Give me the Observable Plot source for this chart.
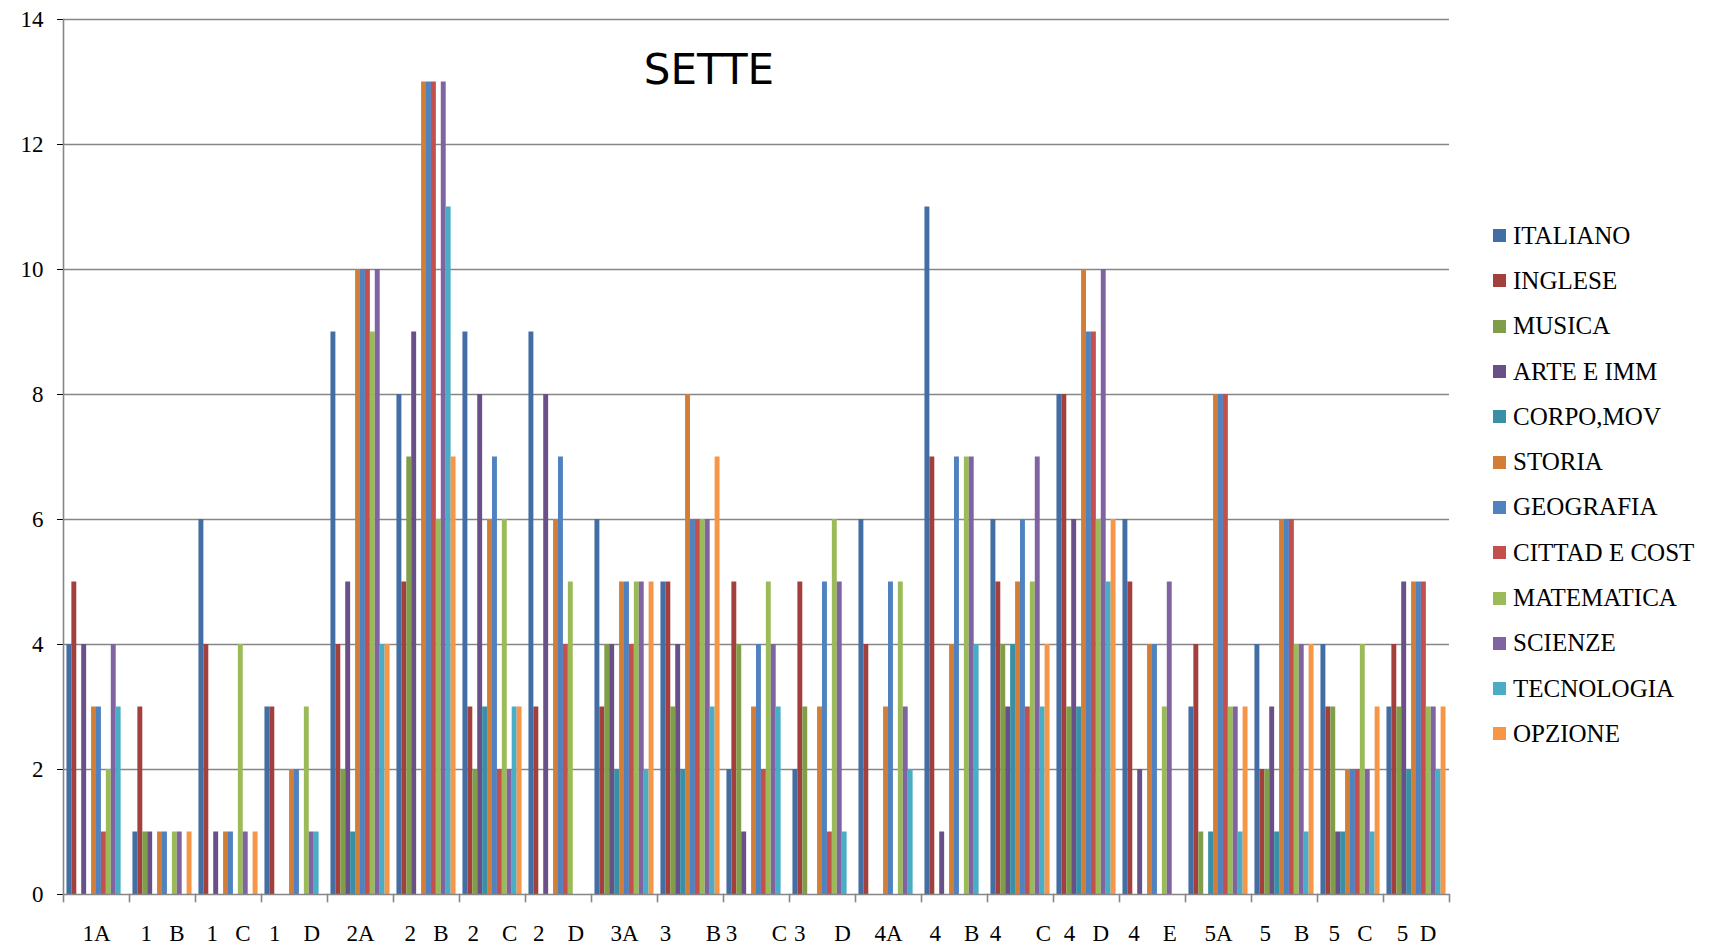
<!DOCTYPE html>
<html><head><meta charset="utf-8">
<script src="https://cdn.jsdelivr.net/npm/d3@7"></script>
<script src="https://cdn.jsdelivr.net/npm/@observablehq/plot@0.6"></script>
<style>
html,body{margin:0;padding:0;background:#fff;}
#wrap{position:relative;width:1715px;height:949px;overflow:hidden;}
#chart{position:absolute;left:0;top:0;}
#title{position:absolute;left:709px;top:45px;transform:translateX(-50%);font-family:"DejaVu Sans";font-size:42px;color:#000;white-space:nowrap;}
#legend{position:absolute;left:1493px;top:213px;font-family:"Liberation Serif";font-size:25px;color:#000;}
.item{display:flex;align-items:center;height:45.3px;white-space:nowrap;}
.sw{width:13px;height:13px;margin-right:7px;flex:none;}
</style></head>
<body><div id="wrap"><div id="chart"></div><div id="title">SETTE</div><div id="legend"></div></div>
<script>
const categories = ["1A","1B","1C","1D","2A","2B","2C","2D","3A","3B","3C","3D","4A","4B","4C","4D","4E","5A","5B","5C","5D"];
const S = "\u00a0";
const categoryLabels = ["1A","1"+S.repeat(3)+"B","1"+S.repeat(3)+"C","1"+S.repeat(4)+"D","2A","2"+S.repeat(3)+"B","2"+S.repeat(4)+"C","2"+S.repeat(4)+"D","3A","3"+S.repeat(6)+"B","3"+S.repeat(6)+"C","3"+S.repeat(5)+"D","4A","4"+S.repeat(4)+"B","4"+S.repeat(6)+"C","4"+S.repeat(3)+"D","4"+S.repeat(4)+"E","5A","5"+S.repeat(4)+"B","5"+S.repeat(3)+"C","5"+S.repeat(2)+"D"];
const seriesNames = ["ITALIANO","INGLESE","MUSICA","ARTE E IMM","CORPO,MOV","STORIA","GEOGRAFIA","CITTAD E COST","MATEMATICA","SCIENZE","TECNOLOGIA","OPZIONE"];
const seriesColors = ["#436EA4","#A3403D","#809D4A","#6A5088","#3A8FA6","#D27E36","#5082C0","#C4504E","#9BBB59","#8064A2","#4BACC6","#F79646"];

const italiano   = [4,1,6,3,9,8,9,9,6,5,2,2,6,11,6,8,6,3,4,4,3];
const inglese    = [5,3,4,3,4,5,3,3,3,5,5,5,4,7,5,8,5,4,2,3,4];
const musica     = [0,1,0,0,2,7,2,0,4,3,4,3,0,0,4,3,0,1,2,3,3];
const arte       = [4,1,1,0,5,9,8,8,4,4,1,0,0,1,3,6,2,0,3,1,5];
const corpo      = [0,0,0,0,1,0,3,0,2,2,0,0,0,0,4,3,0,1,1,1,2];
const storia     = [3,1,1,2,10,13,6,6,5,8,3,3,3,4,5,10,4,8,6,2,5];
const geografia  = [3,1,1,2,10,13,7,7,5,6,4,5,5,7,6,9,4,8,6,2,5];
const cittad     = [1,0,0,0,10,13,2,4,4,6,2,1,0,0,3,9,0,8,6,2,5];
const matematica = [2,1,4,3,9,6,6,5,5,6,5,6,5,7,5,6,3,3,4,4,3];
const scienze    = [4,1,1,1,10,13,2,0,5,6,4,5,3,7,7,10,5,3,4,2,3];
const tecnologia = [3,0,0,1,4,11,3,0,2,3,3,1,2,4,3,5,0,1,1,1,2];
const opzione    = [0,1,1,0,4,7,3,0,5,7,0,0,0,0,4,6,0,3,4,3,3];
const yTicks = [0,2,4,6,8,10,12,14];

const seriesValues = [italiano,inglese,musica,arte,corpo,storia,geografia,cittad,matematica,scienze,tecnologia,opzione];
const rows = [];
categories.forEach((c,i) => seriesNames.forEach((s,j) => rows.push({category:c, series:s, value:seriesValues[j][i]})));

const axisGray = "#868686";
const chart = Plot.plot({
  width: 1715, height: 949,
  marginLeft: 63, marginRight: 266, marginTop: 19, marginBottom: 55,
  style: {fontFamily: "Liberation Serif", fontSize: "23px", color: "#000", background: "transparent", overflow: "visible"},
  fx: {domain: categories, padding: 0, round: false, axis: "bottom", label: null, tickSize: 0, tickPadding: 30,
       tickFormat: d => categoryLabels[categories.indexOf(d)]},
  x: {domain: seriesNames, axis: null, round: false, paddingInner: 0, paddingOuter: 0.7},
  y: {domain: [0,14], ticks: yTicks, tickSize: 6, tickPadding: 14, label: null},
  color: {domain: seriesNames, range: seriesColors},
  marks: [
    Plot.ruleY(yTicks.filter(t => t > 0), {stroke: axisGray, strokeWidth: 1.4}),
    Plot.barY(rows, {fx: "category", x: "series", y: "value", fill: "series"}),
    Plot.ruleY([0], {stroke: axisGray, strokeWidth: 1.6}),
    Plot.frame({anchor: "left", facetAnchor: "left", stroke: axisGray, strokeWidth: 1.6}),
    Plot.frame({anchor: "left", insetTop: 875, insetBottom: -7, stroke: axisGray, strokeWidth: 1.6}),
    Plot.frame({anchor: "right", facetAnchor: "right", insetTop: 875, insetBottom: -7, stroke: axisGray, strokeWidth: 1.6})
  ]
});
document.getElementById("chart").appendChild(chart);

const legend = document.getElementById("legend");
seriesNames.forEach((s,j) => {
  const it = document.createElement("div"); it.className = "item";
  const sw = document.createElement("span"); sw.className = "sw"; sw.style.background = seriesColors[j];
  const tx = document.createElement("span"); tx.textContent = s;
  it.appendChild(sw); it.appendChild(tx); legend.appendChild(it);
});
</script>
</body></html>
